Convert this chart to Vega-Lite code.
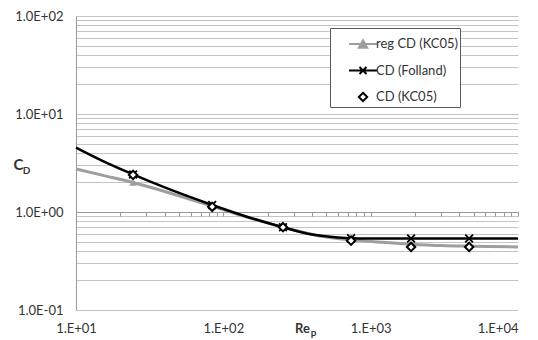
{
  "$schema": "https://vega.github.io/schema/vega-lite/v6.json",
  "width": 442,
  "height": 294,
  "autosize": "none",
  "padding": {"left": 76, "top": 16, "right": 20, "bottom": 30},
  "background": "white",
  "datasets": {
    "curves": [
      {"s": "reg CD (KC05)", "x": 10, "y": 2.75},
      {"s": "reg CD (KC05)", "x": 15, "y": 2.38},
      {"s": "reg CD (KC05)", "x": 24.4, "y": 2.0},
      {"s": "reg CD (KC05)", "x": 40, "y": 1.62},
      {"s": "reg CD (KC05)", "x": 84, "y": 1.15},
      {"s": "reg CD (KC05)", "x": 150, "y": 0.87},
      {"s": "reg CD (KC05)", "x": 254, "y": 0.70},
      {"s": "reg CD (KC05)", "x": 450, "y": 0.57},
      {"s": "reg CD (KC05)", "x": 736, "y": 0.52},
      {"s": "reg CD (KC05)", "x": 1200, "y": 0.49},
      {"s": "reg CD (KC05)", "x": 1880, "y": 0.47},
      {"s": "reg CD (KC05)", "x": 3000, "y": 0.455},
      {"s": "reg CD (KC05)", "x": 4660, "y": 0.448},
      {"s": "reg CD (KC05)", "x": 10000, "y": 0.44},
      {"s": "CD (Folland)", "x": 10, "y": 4.55},
      {"s": "CD (Folland)", "x": 15, "y": 3.35},
      {"s": "CD (Folland)", "x": 24.4, "y": 2.42},
      {"s": "CD (Folland)", "x": 40, "y": 1.78},
      {"s": "CD (Folland)", "x": 84, "y": 1.18},
      {"s": "CD (Folland)", "x": 150, "y": 0.88},
      {"s": "CD (Folland)", "x": 254, "y": 0.70},
      {"s": "CD (Folland)", "x": 400, "y": 0.59},
      {"s": "CD (Folland)", "x": 600, "y": 0.55},
      {"s": "CD (Folland)", "x": 736, "y": 0.54},
      {"s": "CD (Folland)", "x": 1000, "y": 0.537},
      {"s": "CD (Folland)", "x": 1880, "y": 0.536},
      {"s": "CD (Folland)", "x": 4660, "y": 0.536},
      {"s": "CD (Folland)", "x": 10000, "y": 0.536}
    ],
    "markers": [
      {"s": "reg CD (KC05)", "x": 24.4, "y": 2.0},
      {"s": "reg CD (KC05)", "x": 84, "y": 1.15},
      {"s": "reg CD (KC05)", "x": 254, "y": 0.70},
      {"s": "reg CD (KC05)", "x": 736, "y": 0.52},
      {"s": "reg CD (KC05)", "x": 1880, "y": 0.47},
      {"s": "reg CD (KC05)", "x": 4660, "y": 0.448},
      {"s": "CD (Folland)", "x": 24.4, "y": 2.42},
      {"s": "CD (Folland)", "x": 84, "y": 1.18},
      {"s": "CD (Folland)", "x": 254, "y": 0.70},
      {"s": "CD (Folland)", "x": 736, "y": 0.54},
      {"s": "CD (Folland)", "x": 1880, "y": 0.536},
      {"s": "CD (Folland)", "x": 4660, "y": 0.536},
      {"s": "CD (KC05)", "x": 24.4, "y": 2.39},
      {"s": "CD (KC05)", "x": 84, "y": 1.13},
      {"s": "CD (KC05)", "x": 254, "y": 0.70},
      {"s": "CD (KC05)", "x": 736, "y": 0.51},
      {"s": "CD (KC05)", "x": 1880, "y": 0.44},
      {"s": "CD (KC05)", "x": 4660, "y": 0.44}
    ]
  },
  "resolve": {"axis": {"x": "independent", "y": "independent"}},
  "layer": [
    {
      "data": {"name": "curves"},
      "transform": [{"filter": "datum.s === 'reg CD (KC05)'"}],
      "mark": {"type": "line", "color": "#9e9e9e", "strokeWidth": 3, "interpolate": "monotone"},
      "encoding": {
        "x": {
          "field": "x", "type": "quantitative",
          "scale": {"type": "log", "domain": [10, 10000], "nice": false},
          "axis": {
            "orient": "bottom",
            "offset": -98,
            "values": [10,20,30,40,50,60,70,80,90,100,200,300,400,500,600,700,800,900,1000,2000,3000,4000,5000,6000,7000,8000,9000,10000],
            "labelExpr": "abs(log(datum.value)/LN10 - round(log(datum.value)/LN10)) < 0.001 ? '1.E+0' + round(log(datum.value)/LN10) : ''",
            "labelAlign": {"condition": {"test": "datum.value >= 9999", "value": "right"}, "value": "center"},
            "labelFlush": false,
            "labelPadding": 106,
            "labelFontSize": 13,
            "labelColor": "#333333",
            "grid": false,
            "ticks": true,
            "tickSize": 4,
            "tickColor": "#999999",
            "domainColor": "#999999",
            "title": "Re",
            "titleFontSize": 13,
            "titleFontWeight": "bold",
            "titleColor": "#333333",
            "titleX": 226,
            "titleY": 116,
            "titleAlign": "center",
            "titleBaseline": "middle"
          }
        },
        "y": {
          "field": "y", "type": "quantitative",
          "scale": {"type": "log", "domain": [0.1, 100], "nice": false},
          "axis": {
            "orient": "left",
            "values": [0.1,0.2,0.3,0.4,0.5,0.6,0.7,0.8,0.9,1,2,3,4,5,6,7,8,9,10,20,30,40,50,60,70,80,90,100],
            "labelExpr": "abs(log(datum.value)/LN10 - round(log(datum.value)/LN10)) < 0.001 ? '1.0E' + (datum.value >= 1 ? '+' : '-') + '0' + abs(round(log(datum.value)/LN10)) : ''",
            "labelPadding": 13,
            "labelFontSize": 13,
            "labelColor": "#333333",
            "grid": true,
            "gridColor": "#c4c4c4",
            "gridWidth": 1,
            "ticks": false,
            "domainColor": "#999999",
            "title": "C",
            "titleFontSize": 15,
            "titleFontWeight": "bold",
            "titleColor": "#333333",
            "titleAngle": 0,
            "titleX": -58,
            "titleY": 148,
            "titleAlign": "center",
            "titleBaseline": "middle"
          }
        }
      }
    },
    {
      "data": {"name": "curves"},
      "transform": [{"filter": "datum.s === 'CD (Folland)'"}],
      "mark": {"type": "line", "color": "#000000", "strokeWidth": 2.5, "interpolate": "monotone"},
      "encoding": {
        "x": {"field": "x", "type": "quantitative", "axis": null},
        "y": {"field": "y", "type": "quantitative", "axis": null}
      }
    },
    {
      "data": {"name": "markers"},
      "transform": [{"filter": "datum.s === 'reg CD (KC05)'"}],
      "mark": {"type": "point", "shape": "triangle-up", "size": 55, "filled": true, "color": "#9e9e9e", "opacity": 1},
      "encoding": {
        "x": {"field": "x", "type": "quantitative", "axis": null},
        "y": {"field": "y", "type": "quantitative", "axis": null}
      }
    },
    {
      "data": {"name": "markers"},
      "transform": [{"filter": "datum.s === 'CD (Folland)'"}],
      "mark": {"type": "point", "shape": "M-1,-1L1,1M-1,1L1,-1", "size": 60, "filled": false, "stroke": "#000000", "strokeWidth": 1.8, "opacity": 1},
      "encoding": {
        "x": {"field": "x", "type": "quantitative", "axis": null},
        "y": {"field": "y", "type": "quantitative", "axis": null}
      }
    },
    {
      "data": {"name": "markers"},
      "transform": [{"filter": "datum.s === 'CD (KC05)'"}],
      "mark": {"type": "point", "shape": "diamond", "size": 70, "filled": false, "fill": "#ffffff", "stroke": "#000000", "strokeWidth": 2, "opacity": 1},
      "encoding": {
        "x": {"field": "x", "type": "quantitative", "axis": null},
        "y": {"field": "y", "type": "quantitative", "axis": null}
      }
    },
    {
      "data": {"name": "markers"},
      "transform": [{"filter": "false"}],
      "mark": {"type": "point", "size": 784, "strokeWidth": 2, "opacity": 1, "filled": false},
      "encoding": {
        "x": {
          "field": "x", "type": "quantitative",
          "axis": {
            "orient": "top", "labels": false, "ticks": false, "domain": false, "grid": false,
            "title": "p", "titleFontSize": 10, "titleFontWeight": "bold", "titleColor": "#333333",
            "titleX": 237, "titleY": 316, "titleAlign": "center", "titleBaseline": "middle"
          }
        },
        "y": {
          "field": "y", "type": "quantitative",
          "axis": {
            "orient": "right", "labels": false, "ticks": false, "domain": false, "grid": false,
            "title": "D", "titleFontSize": 10, "titleFontWeight": "bold", "titleColor": "#333333",
            "titleAngle": 0, "titleX": -492, "titleY": 154, "titleAlign": "center", "titleBaseline": "middle"
          }
        },
        "fill": {
          "field": "s", "type": "nominal",
          "scale": {"domain": ["reg CD (KC05)", "CD (Folland)", "CD (KC05)"], "range": ["#9e9e9e", "#000000", "#ffffff"]},
          "legend": {
            "title": null, "orient": "none", "legendX": 254, "legendY": 12, "padding": 1,
            "symbolSize": 784, "symbolOffset": 17, "symbolStrokeWidth": 2, "labelOffset": -2, "rowPadding": 3.5,
            "labelFontSize": 13, "labelColor": "#333333", "strokeColor": "#5a5a5a", "fillColor": "white",
            "labelExpr": "datum.label + '       '"
          }
        },
        "stroke": {
          "field": "s", "type": "nominal",
          "scale": {"domain": ["reg CD (KC05)", "CD (Folland)", "CD (KC05)"], "range": ["#9e9e9e", "#000000", "#000000"]},
          "legend": {
            "title": null, "orient": "none", "legendX": 254, "legendY": 12, "padding": 1,
            "symbolSize": 784, "symbolOffset": 17, "symbolStrokeWidth": 2, "labelOffset": -2, "rowPadding": 3.5,
            "labelFontSize": 13, "labelColor": "#333333", "strokeColor": "#5a5a5a", "fillColor": "white",
            "labelExpr": "datum.label + '       '"
          }
        },
        "shape": {
          "field": "s", "type": "nominal",
          "scale": {"domain": ["reg CD (KC05)", "CD (Folland)", "CD (KC05)"], "range": ["M-1,0H1M-0.3,0.27L0,-0.27L0.3,0.27Z", "M-1,0H1M-0.25,-0.25L0.25,0.25M-0.25,0.25L0.25,-0.25", "M0,-0.3L0.3,0L0,0.3L-0.3,0Z"]},
          "legend": {
            "title": null, "orient": "none", "legendX": 254, "legendY": 12, "padding": 1,
            "symbolSize": 784, "symbolOffset": 17, "symbolStrokeWidth": 2, "labelOffset": -2, "rowPadding": 3.5,
            "labelFontSize": 13, "labelColor": "#333333", "strokeColor": "#5a5a5a", "fillColor": "white",
            "labelExpr": "datum.label + '       '"
          }
        }
      }
    }
  ],
  "config": {
    "font": "Lato",
    "view": {"stroke": null},
    "axis": {"labelFont": "Lato", "titleFont": "Lato"},
    "legend": {"labelFont": "Lato"}
  }
}
